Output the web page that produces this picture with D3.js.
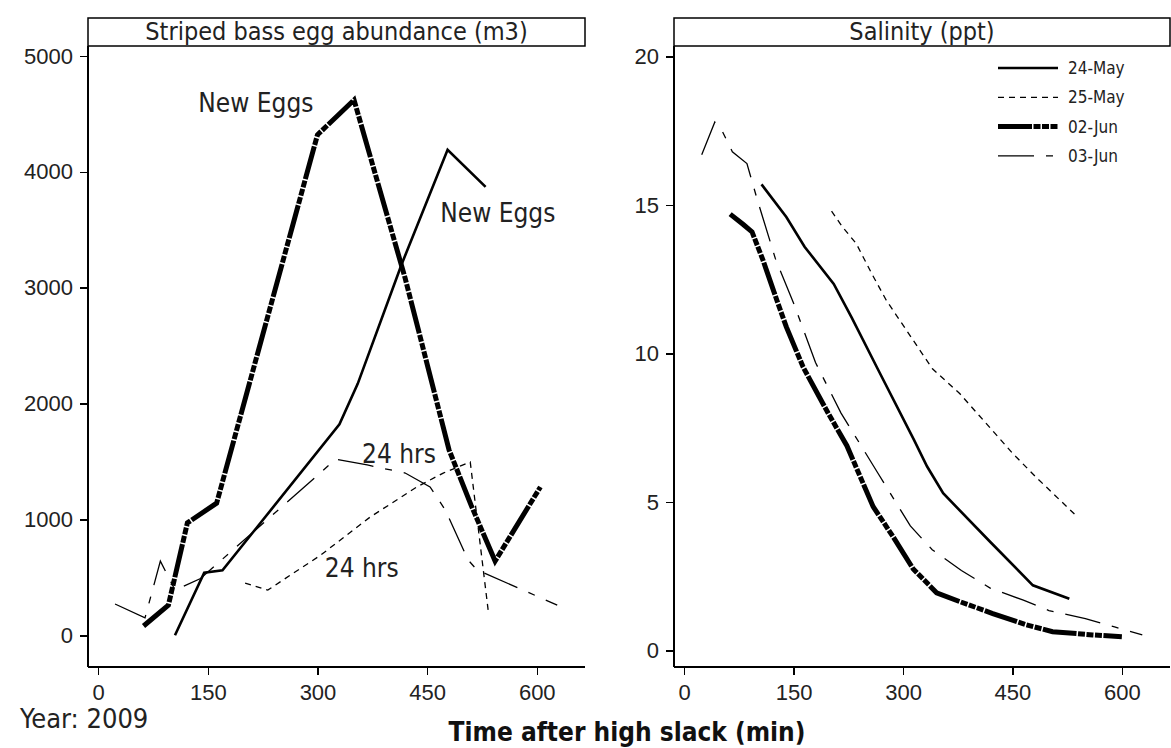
<!DOCTYPE html>
<meta charset="utf-8">
<style>
body { margin: 0; background: #fff; }
svg { font-family: "DejaVu Sans Condensed", "DejaVu Sans", sans-serif; }
.axis path, .axis line { fill: none; stroke: #000; stroke-width: 1.5px; shape-rendering: crispEdges; }
.axis text { font-size: 22px; fill: #222; }
.line { fill: none; stroke: #000; }
.ann { font-size: 26px; fill: #222; }
.legend text { font-size: 17px; fill: #222; }
</style>
<body>
<script src="https://d3js.org/d3.v7.min.js"></script>
<script>

//
// Data
//

var xTicks = [0, 150, 300, 450, 600];
var eggTicks = [0, 1000, 2000, 3000, 4000, 5000];
var salTicks = [0, 5, 10, 15, 20];
var dates = ["24-May", "25-May", "02-Jun", "03-Jun"];

// egg abundance (m3), [minutes after high slack, value]
var eggs24May = [[105,0],[145,540],[170,560],[330,1820],[355,2170],[415,3200],[478,4190],[530,3870]];
var eggs25May = [[201,450],[232,390],[304,690],[372,1020],[436,1280],[472,1400],[509,1495],[534,190]];
var eggs02Jun = [[62,80],[96,260],[122,970],[162,1140],[300,4320],[350,4620],[420,3080],[480,1600],[510,1125],[543,640],[605,1280]];
var eggs03Jun = [[23,270],[64,150],[85,640],[105,390],[140,490],[325,1520],[368,1470],[420,1400],[454,1280],[475,1080],[506,650],[518,565],[628,260]];

// salinity (ppt)
var sal24May = [[106,15.7],[140,14.6],[165,13.6],[205,12.35],[230,11.2],[265,9.5],[315,7.1],[333,6.2],[355,5.3],[420,3.65],[478,2.2],[528,1.75]];
var sal25May = [[202,14.8],[216,14.3],[236,13.7],[257,12.7],[277,11.8],[314,10.45],[340,9.5],[378,8.65],[405,7.9],[450,6.65],[482,5.85],[535,4.6]];
var sal02Jun = [[63,14.7],[81,14.35],[93,14.1],[108,13.15],[127,11.8],[140,10.9],[163,9.55],[195,8.1],[223,6.9],[259,4.85],[286,3.85],[314,2.75],[346,1.95],[378,1.65],[423,1.25],[469,0.87],[505,0.64],[560,0.53],[600,0.47]];
var sal03Jun = [[24,16.7],[42,17.8],[50,17.6],[58,17.2],[66,16.8],[86,16.4],[100,15.2],[125,13.2],[150,11.7],[180,9.7],[215,8.0],[265,6.0],[310,4.2],[340,3.4],[380,2.7],[420,2.1],[465,1.7],[500,1.35],[550,1.08],[590,0.8],[628,0.53]];

// annotations on the egg panel: [text, minutes, value]
var eggNotes = [["New Eggs", 137, 4517], ["New Eggs", 468, 3568], ["24 hrs", 361, 1488], ["24 hrs", 310, 504]];

//
// Styles per date
//

var styles = {
  "24-May": {w: 2.6, dash: null},
  "25-May": {w: 1.3, dash: "6,5"},
  "02-Jun": {w: 5, dash: "34,1.5,7,1.5,7,1.5,7,1.5"},
  "03-Jun": {w: 1.3, dash: "36,12,7,12"}
};

var W = 1171, H = 748;
var plotTop = 46, plotBottom = 667, titleTop = 18;

var svg = d3.select("body").append("svg")
    .attr("width", W)
    .attr("height", H);

function panel(opts) {
  var x = d3.scaleLinear().domain([-14, 666]).range([opts.left, opts.right]);
  var y = d3.scaleLinear().domain(opts.yDomain).range([plotBottom, plotTop]);
  var g = svg.append("g");

  // title strip
  g.append("rect")
      .attr("x", opts.left).attr("y", titleTop)
      .attr("width", opts.right - opts.left).attr("height", plotTop - titleTop)
      .attr("fill", "none").attr("stroke", "#000").attr("stroke-width", 1.5);
  g.append("text")
      .attr("x", (opts.left + opts.right) / 2).attr("y", plotTop - 6)
      .attr("text-anchor", "middle")
      .attr("font-size", 25).attr("fill", "#222")
      .text(opts.title);

  g.append("g")
      .attr("class", "axis")
      .attr("transform", "translate(0," + plotBottom + ")")
      .call(d3.axisBottom(x).tickValues(xTicks).tickFormat(d3.format("d"))
        .tickSize(8).tickPadding(9).tickSizeOuter(0))
      .call(function(a) { a.select(".domain").attr("d", "M" + opts.left + ",0H" + opts.right); });

  g.append("g")
      .attr("class", "axis")
      .attr("transform", "translate(" + opts.left + ",0)")
      .call(d3.axisLeft(y).tickValues(opts.yTicks).tickFormat(d3.format("d"))
        .tickSize(8).tickPadding(7).tickSizeOuter(0))
      .call(function(a) { a.select(".domain").attr("d", "M0," + plotTop + "V" + plotBottom); });

  var line = d3.line()
      .x(function(d) { return x(d[0]); })
      .y(function(d) { return y(d[1]); });

  opts.series.forEach(function(s, i) {
    var st = styles[dates[i]];
    g.append("path")
        .datum(s)
        .attr("class", "line")
        .attr("stroke-width", st.w)
        .attr("stroke-dasharray", st.dash)
        .attr("d", line);
  });

  return {g: g, x: x, y: y};
}

var leftPanel = panel({
  left: 88, right: 585,
  yDomain: [-274, 5086], yTicks: eggTicks,
  title: "Striped bass egg abundance (m3)",
  series: [eggs24May, eggs25May, eggs02Jun, eggs03Jun]
});

var rightPanel = panel({
  left: 674, right: 1170,
  yDomain: [-0.55, 20.36], yTicks: salTicks,
  title: "Salinity (ppt)",
  series: [sal24May, sal25May, sal02Jun, sal03Jun]
});

leftPanel.g.selectAll(".ann").data(eggNotes)
  .enter().append("text")
    .attr("class", "ann")
    .attr("x", function(d) { return leftPanel.x(d[1]); })
    .attr("y", function(d) { return leftPanel.y(d[2]); })
    .text(function(d) { return d[0]; });

// legend
var legend = rightPanel.g.append("g").attr("class", "legend");
dates.forEach(function(d, i) {
  var yy = 68 + i * 29.3;
  var st = styles[d];
  legend.append("line")
      .attr("x1", 998).attr("x2", 1058)
      .attr("y1", yy).attr("y2", yy)
      .attr("stroke", "#000")
      .attr("stroke-width", st.w)
      .attr("stroke-dasharray", st.dash);
  legend.append("text")
      .attr("x", 1068).attr("y", yy + 6)
      .text(d);
});

svg.append("text")
    .attr("x", 20).attr("y", 728)
    .attr("font-size", 27).attr("fill", "#222")
    .text("Year: 2009");

svg.append("text")
    .attr("x", 627).attr("y", 741)
    .attr("text-anchor", "middle")
    .attr("font-size", 26).attr("font-weight", "bold").attr("fill", "#111")
    .text("Time after high slack (min)");

</script>
</body>
